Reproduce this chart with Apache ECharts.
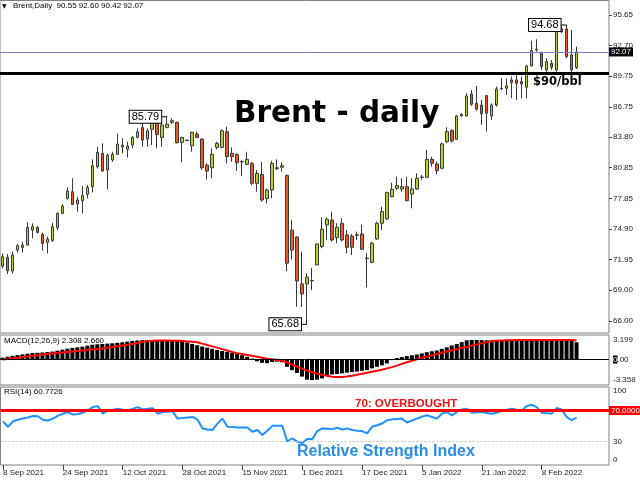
<!DOCTYPE html>
<html><head><meta charset="utf-8">
<script src="https://cdn.jsdelivr.net/npm/echarts@6/dist/echarts.min.js"></script>
<style>html,body{margin:0;padding:0;background:#fff}#c{width:640px;height:480px}</style>
</head><body><div id="c"></div><script>
const dateLabels = ['8 Sep 2021','24 Sep 2021','12 Oct 2021','28 Oct 2021','15 Nov 2021','1 Dec 2021','17 Dec 2021','5 Jan 2022','21 Jan 2022','8 Feb 2022'];
// [open, close, low, high]
const ohlc = [
[71.32,72.23,71.10,72.55],[72.16,70.87,70.55,72.49],[70.84,72.39,70.61,72.71],[72.88,73.29,72.65,73.46],[73.13,73.36,72.62,73.68],
[73.36,75.07,73.30,75.56],[74.81,75.14,74.01,75.46],[75.07,74.59,74.49,75.20],[74.39,73.52,72.81,74.55],[73.62,73.94,72.55,74.17],
[73.78,75.14,73.68,75.52],[75.04,76.43,74.81,76.52],[76.43,77.14,76.36,77.33],[77.88,78.59,77.78,78.95],[78.53,77.30,77.24,79.82],
[77.33,77.72,76.59,78.04],[77.66,78.17,76.43,79.08],[78.27,78.95,77.88,79.17],[79.01,81.05,78.46,81.66],[80.95,82.34,80.79,82.89],
[82.24,80.53,80.47,83.21],[80.63,82.08,78.75,82.24],[81.60,82.15,81.43,82.40],[82.15,83.15,82.08,84.18],[83.05,82.86,82.24,83.70],
[82.63,82.95,81.85,83.37],[83.05,83.79,82.73,83.92],[83.79,84.34,83.70,84.66],[84.76,83.53,82.89,85.15],[83.63,84.44,82.89,84.66],
[84.57,85.21,83.05,85.63],[85.25,84.08,82.73,85.60],[83.79,84.99,82.89,85.15],[84.76,85.08,84.66,85.79],[85.25,85.41,85.08,85.63],
[85.25,83.28,83.21,85.31],[83.31,83.79,81.37,83.86],[83.52,83.48,83.44,83.60],[82.98,84.28,82.40,84.34],[84.12,83.79,83.70,84.34],
[83.63,80.85,80.63,83.70],[81.11,80.53,79.72,81.27],[80.85,82.15,79.82,82.73],[82.82,83.21,82.63,83.37],[82.82,84.44,82.73,84.57],
[84.34,81.92,81.27,84.83],[82.24,81.92,81.43,82.82],[82.15,81.34,80.53,82.24],[81.45,81.41,80.05,81.60],[81.18,81.66,81.11,82.40],
[81.27,79.34,79.17,81.43],[79.34,80.30,78.53,80.63],[80.21,77.72,77.56,81.43],[77.88,78.69,77.40,78.85],[78.69,81.27,77.88,81.53],
[80.76,80.85,80.63,81.66],[80.89,81.05,80.47,81.37],[80.10,71.60,70.84,80.20],[74.80,72.88,71.98,75.80],[74.14,69.88,67.38,74.20],
[69.59,68.62,67.36,72.71],[69.59,70.26,65.68,70.62],[69.93,69.89,69.00,71.14],[71.43,73.46,71.43,73.53],[73.21,74.89,73.05,76.05],
[75.31,75.86,73.85,76.05],[75.79,73.85,73.69,76.60],[74.08,75.08,73.53,75.47],[75.47,73.85,73.69,75.95],[74.34,73.14,72.56,74.82],
[74.24,73.14,72.40,74.43],[74.30,74.36,73.85,74.66],[74.43,72.95,72.88,75.31],[72.10,72.05,69.27,72.56],[71.69,73.53,71.59,73.69],
[73.95,75.47,73.85,75.63],[75.47,76.60,74.82,77.08],[75.89,78.44,75.79,78.54],[78.05,78.76,77.99,79.41],[78.86,79.12,78.70,79.99],
[78.79,79.02,78.54,79.83],[79.02,77.66,77.57,79.99],[78.31,78.79,76.92,79.83],[78.79,79.83,78.70,80.31],[79.90,79.95,79.67,80.15],
[79.93,81.67,79.83,82.57],[81.67,81.28,80.96,81.93],[81.22,80.57,80.22,81.44],[80.80,83.16,80.70,83.29],[83.38,84.35,83.22,84.77],
[84.45,83.45,83.29,84.58],[83.61,85.87,83.54,85.97],[85.87,86.03,85.80,86.13],[85.87,87.81,85.80,88.07],[88.00,87.00,86.84,88.39],
[87.10,86.51,86.39,88.78],[86.93,86.07,85.00,87.42],[87.84,86.13,84.35,87.90],[85.87,86.93,85.48,87.10],[86.93,88.48,86.77,88.71],
[88.50,88.55,88.39,89.52],[88.55,88.78,87.90,89.52],[89.36,89.10,87.58,89.68],[89.36,89.03,87.42,89.84],[89.20,88.97,87.58,89.68],
[88.65,90.71,87.58,90.81],[90.71,92.20,90.65,93.17],[92.25,92.29,92.10,93.30],[92.01,90.65,90.33,92.10],[90.33,91.13,90.16,91.46],
[90.97,90.58,90.33,91.29],[90.33,94.04,90.16,94.36],[94.04,94.30,93.90,94.50],[94.30,91.62,91.46,94.68],[91.78,90.33,90.00,94.20],
[90.55,92.07,90.42,92.60]
];
const macdHist = [0.3,0.45,0.6,0.72,0.83,0.95,1.05,1.1,1.15,1.22,
1.3,1.45,1.62,1.78,1.9,2.0,2.1,2.28,2.43,2.5,
2.55,2.6,2.66,2.74,2.82,2.92,3.05,3.12,3.17,3.19,
3.199,3.19,3.17,3.13,3.08,3.02,2.93,2.78,2.56,2.35,
2.13,1.95,1.76,1.58,1.39,1.25,1.12,0.92,0.7,0.45,
0.15,-0.3,-0.55,-0.6,-0.4,-0.35,-0.45,-1.2,-1.75,-2.2,
-2.8,-3.3,-3.358,-3.3,-3.1,-2.6,-2.45,-2.38,-2.28,-2.15,
-2.05,-1.97,-1.85,-1.72,-1.45,-1.2,-0.95,-0.65,-0.1,0.25,
0.4,0.55,0.7,0.82,1.0,1.2,1.35,1.48,1.75,2.0,
2.3,2.55,2.85,3.15,3.199,3.199,3.18,3.15,3.15,3.15,
3.15,3.15,3.12,3.15,3.17,3.18,3.199,3.17,3.15,3.15,
3.15,3.15,3.15,3.12,3.1,2.83];
const macdSignal = [0,0.1,0.2,0.3,0.4,0.5,0.6,0.7,0.8,0.9,
1.0,1.08,1.16,1.24,1.32,1.4,1.48,1.56,1.64,1.72,
1.82,1.93,2.05,2.18,2.3,2.43,2.55,2.72,2.88,3.0,
3.07,3.1,3.1,3.1,3.09,3.06,3.02,2.97,2.9,2.83,
2.6,2.38,2.15,1.95,1.7,1.48,1.25,1.05,0.9,0.75,
0.6,0.45,0.28,0.14,0.04,-0.08,-0.2,-0.5,-0.85,-1.15,
-1.5,-1.8,-2.1,-2.3,-2.5,-2.68,-2.82,-2.88,-2.88,-2.8,
-2.67,-2.5,-2.33,-2.18,-2.0,-1.83,-1.68,-1.45,-1.25,-1.0,
-0.72,-0.45,-0.2,0.05,0.3,0.5,0.68,0.9,1.1,1.32,
1.52,1.7,1.88,2.05,2.25,2.48,2.67,2.85,2.98,3.07,
3.12,3.15,3.17,3.2,3.2,3.2,3.2,3.2,3.2,3.2,
3.2,3.2,3.2,3.2,3.18,3.12];
const rsi = [56,49,56,58,59.5,61,62.9,62.5,58,57,
59.5,63,65.8,67.9,64.6,65.5,67.1,70,74.2,75.5,
65.8,70,71,72.1,71,70,72,74.2,71.3,72,
72.9,65.8,67.9,68.3,68.8,59.5,60.3,61,61.6,58.2,
46.9,45.5,44.8,53.2,59.5,49,48.6,48.2,48.2,48.2,
42.7,44.8,38.5,44,50.2,50.2,50.2,30.1,34.3,30,
28,33.5,33,43.5,46.9,46.5,46,47.7,45.6,46.9,
44.8,44,43.5,40.6,49,51,53.2,57.4,58.5,59,
59.5,54.5,57,59.5,62,63.7,61.6,59.5,65.8,67.9,
63.7,68,71.3,72.1,67.1,67.5,67.9,66.8,65.8,67.1,
69.5,71,72.1,71,70,75.5,77.2,74.2,67.1,66.5,
65.8,73,71.3,61.6,57.4,60.77];
const priceTicks = [66.00,69.00,71.95,74.90,77.85,80.85,83.80,86.75,89.75,92.70,95.65];
const macdTicks = [3.199,0,-3.358];
const rsiTicks = [0,30,100];
const lastClose = 92.07, keyLevel = 90, rsiHigh = 70, rsiLow = 30;
const extremes = [{i:33,v:85.79},{i:113,v:94.68},{i:61,v:65.68}];

const SLOTS = 122;
const cats = Array.from({length:SLOTS},(_,i)=> (i%12===0 && dateLabels[i/12]) ? dateLabels[i/12] : '');
const FONT = '"Liberation Sans", Arial, sans-serif';
const lab = {fontFamily:FONT,fontSize:8,color:'#222'};
const border = {show:true,borderColor:'#808080',borderWidth:1,backgroundColor:'transparent'};
const hiddenX = (g)=>({type:'category',gridIndex:g,data:cats,boundaryGap:true,axisLine:{show:false},axisTick:{show:false},axisLabel:{show:false}});
const fmt = v => v.toFixed(2);

const chart = echarts.init(document.getElementById('c'),null,{renderer:'canvas'});
chart.setOption({
  animation:false,
  textStyle:{fontFamily:FONT},
  grid:[
    Object.assign({left:0,top:0.5,width:609,height:332.5},border),
    Object.assign({left:0,top:335,width:609,height:50},border),
    Object.assign({left:0,top:387,width:609,height:78},border)
  ],
  xAxis:[hiddenX(0),hiddenX(1),
    {type:'category',gridIndex:2,data:cats,boundaryGap:true,axisLine:{show:false},
     axisTick:{show:true,alignWithLabel:true,interval:(i,v)=>v!=='',length:5,lineStyle:{color:'#444'}},
     axisLabel:Object.assign({show:true,interval:(i,v)=>v!=='',align:'left',margin:4,hideOverlap:false},lab)}
  ],
  yAxis:[
    {type:'value',gridIndex:0,position:'right',min:64.837,max:97.055,splitLine:{show:false},axisLine:{show:false},
     axisTick:{show:true,customValues:priceTicks,length:3,lineStyle:{color:'#444'}},
     axisLabel:Object.assign({customValues:priceTicks,formatter:fmt,margin:4},lab)},
    {type:'value',gridIndex:1,position:'right',min:-4.18,max:4.02,splitLine:{show:false},axisLine:{show:false},axisTick:{show:false},
     axisLabel:Object.assign({customValues:macdTicks,margin:4,
       formatter:v=> v===0 ? '{k|0}.00' : String(v),
       rich:{k:{backgroundColor:'#000',color:'#fff',fontSize:8,fontFamily:FONT}}},lab)},
    {type:'value',gridIndex:2,position:'right',min:0,max:100,splitLine:{show:false},axisLine:{show:false},axisTick:{show:false},
     axisLabel:Object.assign({customValues:rsiTicks,margin:4,
       formatter:v=> v===100 ? '{a|100}' : (v===0 ? '{b|0}' : String(v)),
       rich:{a:{padding:[8,0,0,0],fontSize:8,fontFamily:FONT,color:'#222'},b:{padding:[0,0,10,0],fontSize:8,fontFamily:FONT,color:'#222'}}},lab)}
  ],
  series:[
    {type:'candlestick',xAxisIndex:0,yAxisIndex:0,data:ohlc,barWidth:3,
     itemStyle:{color:'#b4d020',color0:'#f0561e',borderColor:'#3a3a3a',borderColor0:'#3a3a3a',borderWidth:1},
     markLine:{silent:true,symbol:['none','none'],animation:false,
       data:[
         {yAxis:lastClose,lineStyle:{color:'#7a7ad8',width:1,type:'solid'},
          label:{show:true,position:'end',distance:0,formatter:()=>lastClose.toFixed(2),color:'#fff',backgroundColor:'#000',fontSize:8,fontFamily:FONT,padding:[1,2,0,2],lineHeight:8}},
         {yAxis:keyLevel,lineStyle:{color:'#000',width:3,type:'solid'},label:{show:false}}
       ]},
     markPoint:{silent:true,symbol:'rect',symbolSize:[6,1],symbolOffset:[-3,0],itemStyle:{color:'#000'},
       data:extremes.map(p=>({coord:[p.i,p.v],value:p.v})),
       label:{show:true,position:'left',distance:0,formatter:p=>p.value.toFixed(2),color:'#000',fontSize:11,fontFamily:FONT,
         backgroundColor:'#fff',borderColor:'#000',borderWidth:1,padding:[1,2,0,2]}}
    },
    {type:'bar',xAxisIndex:1,yAxisIndex:1,data:macdHist,barWidth:4,itemStyle:{color:'#000'},
     markLine:{silent:true,symbol:['none','none'],data:[{yAxis:0}],lineStyle:{color:'#000',width:1,type:'solid'},label:{show:false}}},
    {type:'line',xAxisIndex:1,yAxisIndex:1,data:macdSignal,showSymbol:false,lineStyle:{color:'#ff0000',width:2}},
    {type:'line',xAxisIndex:2,yAxisIndex:2,data:rsi,showSymbol:false,lineStyle:{color:'#1e90ff',width:2},z:3,
     markLine:{silent:true,symbol:['none','none'],
       data:[
         {yAxis:rsiLow,lineStyle:{color:'#c0c0c0',width:1,type:[2,2]},label:{show:false}},
         {yAxis:rsiHigh,lineStyle:{color:'#ff0000',width:3,type:'solid'},
          label:{show:true,position:'end',distance:0,formatter:()=>rsiHigh.toFixed(4),color:'#fff',backgroundColor:'#ff0000',fontSize:8,fontFamily:FONT,padding:[1,2,0,2],lineHeight:8}}
       ]}}
  ],
  graphic:[
    {type:'text',x:2,y:6,z:0,style:{text:'\u25BC',font:'6px "DejaVu Sans"',fill:'#000',verticalAlign:'middle'}},
    {type:'text',x:13,y:6,z:0,style:{text:'Brent,Daily  90.55 92.60 90.42 92.07',font:'8px "Liberation Sans"',fill:'#000',verticalAlign:'middle'}},
    {type:'text',x:4,y:341,z:0,style:{text:'MACD(12,26,9) 2.308 2.660',font:'8px "Liberation Sans"',fill:'#000',verticalAlign:'middle'}},
    {type:'text',x:4,y:392,z:0,style:{text:'RSI(14) 60.7726',font:'8px "Liberation Sans"',fill:'#000',verticalAlign:'middle'}},
    {type:'text',x:234,y:114,z:100,style:{text:'Brent - daily',font:'bold 29.5px "DejaVu Sans"',fill:'#000',verticalAlign:'middle'}},
    {type:'text',x:533,y:82,z:100,style:{text:'$90/bbl',font:'bold 11.5px "DejaVu Sans"',fill:'#000',verticalAlign:'middle'}},
    {type:'text',x:355,y:404,z:100,style:{text:'70: OVERBOUGHT',font:'bold 11.5px "Liberation Sans"',fill:'#ee1111',verticalAlign:'middle'}},
    {type:'text',x:297,y:452,z:100,style:{text:'Relative Strength Index',font:'bold 16px "Liberation Sans"',fill:'#2a8ee6',verticalAlign:'middle'}}
  ]
});
</script></body></html>
